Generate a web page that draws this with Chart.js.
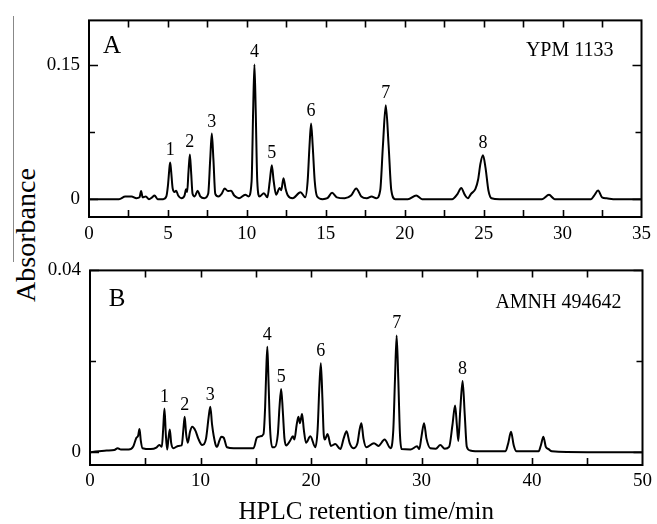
<!DOCTYPE html>
<html>
<head>
<meta charset="utf-8">
<script src="https://cdn.jsdelivr.net/npm/chart.js@4.4.1/dist/chart.umd.min.js"></script>
<style>
  body { margin: 0; background: #fff; }
  #wrap { position: relative; width: 657px; height: 524px; background: #fff; overflow: hidden; }
  #boxA { position: absolute; left: 0; top: 0; width: 657px; height: 250px; }
  #boxB { position: absolute; left: 0; top: 250px; width: 657px; height: 274px; }
  #ytitle { position: absolute; left: -76.5px; top: 221px; width: 200px; height: 28px; line-height: 28px;
            text-align: center; font: 28px "Liberation Serif"; color: #000; transform: rotate(-90deg); }
  #edge { position: absolute; left: 13px; top: 16px; width: 1px; height: 246px; background: #888; }
</style>
</head>
<body>
<div id="wrap">
  <div id="edge"></div>
  <div id="ytitle">Absorbance</div>
  <div id="boxA"><canvas id="chartA" width="657" height="250"></canvas></div>
  <div id="boxB"><canvas id="chartB" width="657" height="274"></canvas></div>
</div>
<script>
// panel A: YPM 1133, retention time (min) and absorbance
const timeA = [0, 1.9, 2.3, 2.7, 3.0, 3.2, 3.3, 3.4, 3.6, 3.8, 4.0, 4.15, 4.35, 4.7, 4.9, 5.0, 5.08, 5.14, 5.2, 5.3,
  5.42, 5.52, 5.65, 5.85, 6.05, 6.15, 6.22, 6.3, 6.39, 6.47, 6.56, 6.7, 6.88, 7.05, 7.3, 7.55, 7.68, 7.78, 7.88, 8.0,
  8.2, 8.4, 8.6, 8.8, 9.0, 9.2, 9.5, 9.9, 10.1, 10.3, 10.4, 10.48, 10.56, 10.66, 10.8, 11.08, 11.3, 11.45, 11.58, 11.7,
  11.85, 12.08, 12.18, 12.32, 12.45, 12.6, 12.9, 13.4, 13.7, 13.85, 13.97, 14.07, 14.17, 14.3, 14.45, 14.8, 15.1, 15.4, 15.7, 16.2,
  16.6, 16.93, 17.25, 17.6, 17.9, 18.2, 18.45, 18.62, 18.8, 18.98, 19.15, 19.4, 20.2, 20.73, 21.1, 23.0, 23.35, 23.58, 23.8, 24.0,
  24.2, 24.48, 24.65, 24.8, 24.96, 25.12, 25.3, 25.5, 26.0, 28.7, 29.14, 29.5, 31.8, 32.0, 32.25, 32.5, 32.8, 33.2, 35.0];
const absA = [0, 0, 0.003, 0.003, 0.001, 0.002, 0.009, 0.002, 0.003, 0.0, 0.002, 0.004, 0.0, 0.0, 0.003, 0.015, 0.032, 0.041, 0.032, 0.012,
  0.008, 0.0095, 0.004, 0.001, 0.004, 0.011, 0.008, 0.03, 0.05, 0.03, 0.006, 0.003, 0.0095, 0.003, 0.001, 0.006, 0.045, 0.0734, 0.045, 0.006,
  0.003, 0.006, 0.012, 0.009, 0.0095, 0.004, 0.001, 0.005, 0.003, 0.02, 0.1, 0.1507, 0.1, 0.02, 0.003, 0.0066, 0.002, 0.02, 0.038, 0.02,
  0.005, 0.0125, 0.01, 0.0235, 0.012, 0.004, 0.001, 0.0077, 0.002, 0.02, 0.06, 0.0847, 0.06, 0.02, 0.003, 0.0, 0.001, 0.007, 0.002, 0.001,
  0.004, 0.012, 0.003, 0.001, 0.003, 0.001, 0.01, 0.06, 0.105, 0.06, 0.01, 0.0, 0.0, 0.004, 0.0, 0.0, 0.006, 0.0125, 0.005, 0.001,
  0.006, 0.0114, 0.022, 0.04, 0.049, 0.035, 0.01, 0.001, 0, 0, 0.0048, 0.0, 0.0, 0.004, 0.0096, 0.002, 0.001, 0.0, 0];

// panel B: AMNH 494642
const timeB = [0, 1.5, 2.2, 2.5, 2.8, 3.5, 3.9, 4.2, 4.35, 4.48, 4.6, 4.75, 5.5, 6.0, 6.27, 6.5, 6.62, 6.74, 6.86, 6.98,
  7.1, 7.22, 7.35, 7.55, 8.0, 8.3, 8.45, 8.57, 8.7, 8.85, 9.05, 9.25, 9.55, 9.8, 10.15, 10.5, 10.75, 10.89, 11.05, 11.34,
  11.5, 11.7, 11.88, 12.1, 12.4, 13.0, 14.8, 15.1, 15.4, 15.7, 15.85, 15.95, 16.05, 16.15, 16.3, 16.5, 16.7, 17.0, 17.15, 17.3,
  17.45, 17.6, 17.76, 18.1, 18.36, 18.5, 18.7, 18.86, 19.0, 19.19, 19.35, 19.55, 19.94, 20.39, 20.6, 20.75, 20.89, 21.03, 21.15, 21.25,
  21.5, 21.8, 22.2, 22.66, 22.95, 23.22, 23.5, 23.82, 24.2, 24.4, 24.56, 24.75, 25.0, 25.7, 26.1, 26.66, 27.2, 27.45, 27.6, 27.75,
  27.9, 28.05, 28.2, 29.0, 29.6, 29.8, 30.0, 30.23, 30.45, 30.8, 31.3, 31.7, 32.1, 32.5, 32.8, 33.04, 33.2, 33.33, 33.5, 33.72,
  33.92, 34.1, 34.4, 35.5, 37.6, 37.85, 38.1, 38.35, 38.6, 40.6, 40.8, 41.03, 41.25, 41.5, 41.8, 45.0, 50.0];
const absB = [0, 0.0004, 0.0005, 0.0009, 0.0006, 0.0006, 0.0012, 0.0032, 0.0036, 0.0051, 0.0025, 0.0009, 0.0007, 0.001, 0.0016, 0.0012, 0.005, 0.0096, 0.004, 0.0006,
  0.003, 0.005, 0.002, 0.0009, 0.0014, 0.0015, 0.005, 0.0078, 0.004, 0.0021, 0.0045, 0.0056, 0.0047, 0.003, 0.0016, 0.003, 0.008, 0.010, 0.006, 0.0019,
  0.0012, 0.0025, 0.0034, 0.0032, 0.0011, 0.0009, 0.0009, 0.0032, 0.0035, 0.004, 0.01, 0.018, 0.0232, 0.016, 0.005, 0.0011, 0.0011, 0.004, 0.01, 0.0139,
  0.009, 0.003, 0.0015, 0.0025, 0.0035, 0.0028, 0.006, 0.0078, 0.0064, 0.0084, 0.005, 0.0021, 0.0035, 0.0011, 0.005, 0.014, 0.0196, 0.012, 0.004, 0.0028,
  0.004, 0.0014, 0.0018, 0.0007, 0.003, 0.0046, 0.002, 0.0009, 0.002, 0.005, 0.0064, 0.003, 0.0011, 0.002, 0.0014, 0.0028, 0.0009, 0.005, 0.016, 0.0257,
  0.016, 0.004, 0.0007, 0.0006, 0.0013, 0.0007, 0.0035, 0.0064, 0.003, 0.0009, 0.0008, 0.0016, 0.0008, 0.0012, 0.006, 0.0103, 0.006, 0.0025, 0.009, 0.0157,
  0.008, 0.0012, 0.0004, 0.0002, 0.0002, 0.002, 0.0045, 0.0015, 0.0002, 0.0002, 0.0015, 0.0034, 0.0012, 0.0007, 0.0002, 0.0, 0.0];

const peakIds = ['1', '2', '3', '4', '5', '6', '7', '8'];
const peakTimesA = [5.14, 6.39, 7.78, 10.48, 11.58, 14.07, 18.8, 24.96];
const peakTimesB = [6.74, 8.57, 10.89, 16.05, 17.3, 20.89, 27.75, 33.72];

const xTicksA = [0, 2.5, 5, 7.5, 10, 12.5, 15, 17.5, 20, 22.5, 25, 27.5, 30, 32.5, 35];
const xTicksB = [0, 5, 10, 15, 20, 25, 30, 35, 40, 45, 50];
const yTicksA = [0, 0.075, 0.15];
const yLabelsA = ['0', '', '0.15'];
const yTicksB = [0, 0.02, 0.04];
const yLabelsB = ['0', '', '0.04'];

const serif = '"Liberation Serif", "Times New Roman", serif';

// inward ticks, frame box, panel letter, sample name and peak numbers
const framePlugin = {
  id: 'frame',
  afterDraw(chart, args, opts) {
    const ctx = chart.ctx;
    const a = chart.chartArea;
    const xs = chart.scales.x, ys = chart.scales.y;
    ctx.save();
    ctx.strokeStyle = '#000';
    ctx.lineWidth = 2;
    ctx.strokeRect(a.left, a.top, a.right - a.left, a.bottom - a.top);
    ctx.lineWidth = 1.6;
    ctx.beginPath();
    xs.ticks.forEach(t => {
      const px = Math.round(xs.getPixelForValue(t.value)) + 0.5;
      if (px <= a.left + 1 || px >= a.right - 1) return;
      ctx.moveTo(px, a.bottom); ctx.lineTo(px, a.bottom - 7);
      ctx.moveTo(px, a.top); ctx.lineTo(px, a.top + 7);
    });
    ys.ticks.forEach(t => {
      const py = Math.round(ys.getPixelForValue(t.value)) + 0.5;
      const len = t.label ? 9 : 6;
      ctx.moveTo(a.left, py); ctx.lineTo(a.left + len, py);
      ctx.moveTo(a.right, py); ctx.lineTo(a.right - len, py);
    });
    ctx.stroke();

    ctx.fillStyle = '#000';
    ctx.font = '25px ' + serif;
    ctx.textAlign = 'center';
    ctx.textBaseline = 'alphabetic';
    ctx.fillText(opts.letter, a.left + opts.letterDx, a.top + opts.letterDy);
    ctx.font = '20px ' + serif;
    ctx.textAlign = 'right';
    ctx.fillText(opts.name, a.right - opts.nameDx, a.top + opts.nameDy);

    ctx.font = '18px ' + serif;
    ctx.textAlign = 'center';
    opts.peakTimes.forEach((t, i) => {
      const top = opts.abs[opts.times.indexOf(t)];
      ctx.fillText(peakIds[i], xs.getPixelForValue(t), ys.getPixelForValue(top) - 7);
    });
    ctx.restore();
  }
};

function makePanel(id, p) {
  return new Chart(document.getElementById(id), {
    type: 'line',
    data: {
      datasets: [{
        data: p.times.map((t, i) => ({ x: t, y: p.abs[i] })),
        borderColor: '#000',
        borderWidth: 2,
        pointRadius: 0,
        fill: false,
        cubicInterpolationMode: 'monotone'
      }]
    },
    options: {
      responsive: false,
      animation: false,
      layout: { padding: { left: 0, top: p.padTop, right: p.padRight, bottom: 0 } },
      plugins: {
        legend: { display: false },
        tooltip: { enabled: false },
        frame: {
          letter: p.letter, letterDx: p.letterDx, letterDy: p.letterDy,
          name: p.name, nameDx: p.nameDx, nameDy: p.nameDy,
          peakTimes: p.peakTimes, times: p.times, abs: p.abs
        }
      },
      scales: {
        x: {
          type: 'linear', min: 0, max: p.xMax,
          grid: { display: false, drawTicks: false },
          border: { display: false },
          afterBuildTicks: s => { s.ticks = p.xTicks.map(v => ({ value: v })); },
          afterFit: s => { s.height = p.xHeight; },
          ticks: {
            padding: p.xPad, color: '#000', maxRotation: 0, autoSkip: false,
            font: { family: serif, size: 19 },
            callback: v => (v % p.xStep === 0 ? String(v) : '')
          },
          title: p.xTitle ? {
            display: true, text: p.xTitle, color: '#000',
            font: { family: serif, size: 25 }, padding: { top: 0, bottom: -3 }
          } : { display: false }
        },
        y: {
          type: 'linear', min: p.yMin, max: p.yMax,
          grid: { display: false, drawTicks: false },
          border: { display: false },
          afterBuildTicks: s => { s.ticks = p.yTicks.map(v => ({ value: v })); },
          afterFit: s => { s.width = p.yWidth; },
          ticks: {
            padding: 9, color: '#000', autoSkip: false,
            font: { family: serif, size: 19 },
            callback: v => p.yLabels[p.yTicks.indexOf(v)]
          }
        }
      }
    },
    plugins: [framePlugin]
  });
}

makePanel('chartA', {
  times: timeA, abs: absA, peakTimes: peakTimesA,
  xMax: 35, xTicks: xTicksA, xStep: 5, xHeight: 33, xPad: 6,
  yMin: -0.02, yMax: 0.2, yTicks: yTicksA, yLabels: yLabelsA, yWidth: 89,
  padTop: 17, padRight: 9,
  letter: 'A', letterDx: 23, letterDy: 33,
  name: 'YPM 1133', nameDx: 28, nameDy: 36
});

makePanel('chartB', {
  times: timeB, abs: absB, peakTimes: peakTimesB,
  xMax: 50, xTicks: xTicksB, xStep: 10, xHeight: 59, xPad: 5,
  xTitle: 'HPLC retention time/min',
  yMin: -0.0028, yMax: 0.04, yTicks: yTicksB, yLabels: yLabelsB, yWidth: 90,
  padTop: 15, padRight: 8,
  letter: 'B', letterDx: 27, letterDy: 36,
  name: 'AMNH 494642', nameDx: 21, nameDy: 38
});
</script>
</body>
</html>
